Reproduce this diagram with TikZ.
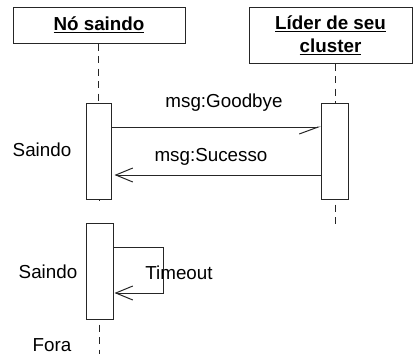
\documentclass[tikz,border=0pt]{standalone}
\usepackage{fontspec}
\setmainfont{Liberation Sans}
\usetikzlibrary{arrows.meta}
\begin{document}
\begin{tikzpicture}[x=1pt,y=-1pt,
  every node/.style={font=\fontsize{18.8}{22}\selectfont},
  lineclr/.style={draw=black!85, line width=1pt},
  header/.style={lineclr, fill=white, inner sep=0pt, align=center,
    font=\fontsize{18.8}{22}\selectfont\bfseries},
  activation/.style={lineclr, fill=white, inner sep=0pt, minimum width=26pt, minimum height=96pt},
  lifeline/.style={lineclr, dash pattern=on 7pt off 5.5pt},
  msg/.style={lineclr},
  openhead/.style={-{Straight Barb[length=17pt,width=14pt,line width=1pt]}},
  halfhead/.style={-{Straight Barb[harpoon,swap,length=19pt,width=14pt,line width=1pt]}},
  lbl/.style={inner sep=0pt, text=black}
]
\useasboundingbox (0,0) rectangle (413,354);

% object headers
\node[header, minimum width=172pt, minimum height=36pt] (head1) at (99,25) {\underline{Nó saindo}};
\node[header, minimum width=163pt, minimum height=56pt] (head2) at (330.5,35)
  {\underline{Líder de seu}\\[1pt]\underline{cluster}};

% activation bars
\node[activation, minimum width=25pt] (act1) at (98.5,151) {};
\node[activation, minimum width=27pt] (act2) at (335,151) {};
\node[activation, minimum width=27pt] (act3) at (99.5,271) {};

% free ends of the lifelines
\coordinate (end1) at (99,354);
\coordinate (end2) at (335,226);

% lifelines
\draw[lifeline] (head1.south -| act1.north) -- (act1.north);
\draw[lifeline] ([yshift=-1pt]act1.south -| head1.south) -- (act1.south -| head1.south |- act3.north);
\draw[lifeline] ([yshift=-5pt]act3.south -| end1) -- (end1);
\draw[lifeline] (act2.north |- head2.south) -- (act2.north);
\draw[lifeline] ([yshift=-5pt]act2.south) -- (end2);

% messages
\draw[msg, halfhead] ([yshift=24pt]act1.east) -- ([yshift=24pt]act2.west);
\draw[msg, openhead] ([yshift=-24pt]act2.west) -- ([yshift=-24pt,xshift=3pt]act1.east);

% self message (timeout)
\draw[msg, openhead] ([yshift=24pt]act3.east) -| ++(50,0) |- ([yshift=-22pt,xshift=1pt]act3.east);

% labels
\node[lbl] (l1) at (224,103) {msg:Goodbye};
\node[lbl] (l2) at (211,157) {msg:Sucesso};
\node[lbl] (s1) at (42,150) {Saindo};
\node[lbl] (s2) at (48,272) {Saindo};
\node[lbl] (to) at (179,273) {Timeout};
\node[lbl] (fo) at (52,345) {Fora};
\end{tikzpicture}
\end{document}
